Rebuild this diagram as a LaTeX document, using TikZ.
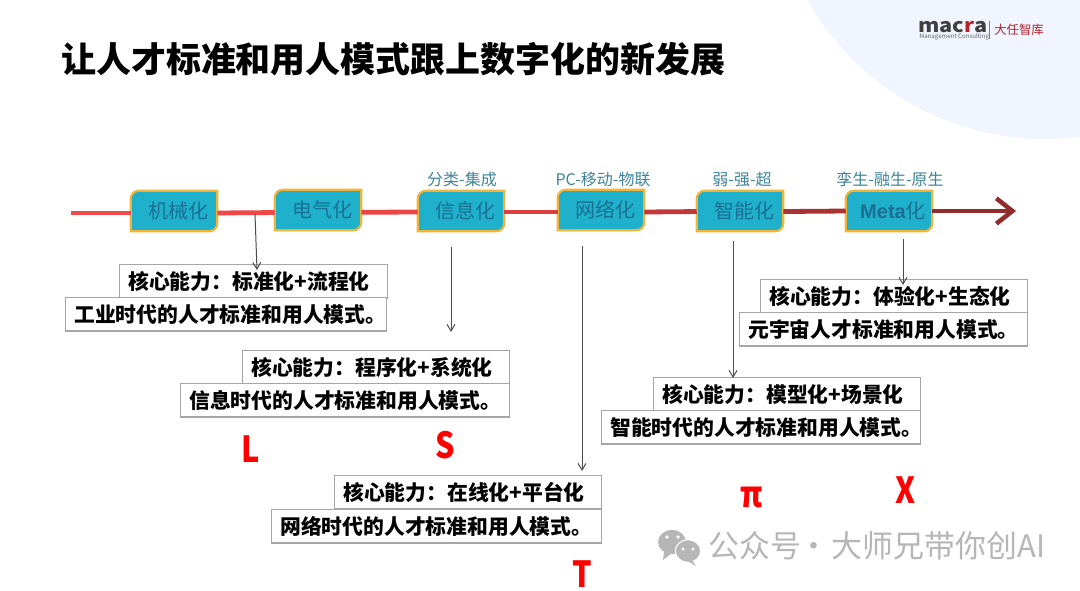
\documentclass[tikz,border=0pt]{standalone}
\usepackage{fontspec}
\setmainfont{Noto Sans CJK SC}
\newfontfamily\latinbold{Liberation Sans}
\usetikzlibrary{arrows.meta,backgrounds}
\definecolor{tagfill}{HTML}{1FB1CC}
\definecolor{tagedge}{HTML}{F5B335}
\definecolor{tagtext}{HTML}{1A6F92}
\definecolor{toptext}{HTML}{3F8499}
\definecolor{boxedge}{HTML}{A6A6A6}
\definecolor{arcfill}{HTML}{F0F5FF}
\definecolor{wmgrey}{HTML}{B6B6B6}
\definecolor{logored}{HTML}{B5222A}
\tikzset{
  x=0.75pt,y=-0.75pt,
  tagnode/.style={minimum width=64.5pt,minimum height=30pt,inner sep=0pt,text=tagtext,font=\fontsize{15}{15}\selectfont},
  tagshape/.style={draw=tagedge,fill=tagfill,line width=1.6pt},
  toplabel/.style={inner sep=0pt,text=toptext,font=\fontsize{12}{12}\selectfont},
  capbox/.style={draw=boxedge,line width=0.9pt,fill=white,inner ysep=0pt,inner xsep=6.5pt,minimum height=25pt,align=left,anchor=north west,font=\fontsize{15.6}{16}\selectfont\bfseries},
  flow/.style={line width=3.6pt},
  pointer/.style={draw=black!70,line width=0.75pt,-{Straight Barb[length=5pt,width=6pt]}},
  letter/.style={inner sep=0pt,text=red,font=\fontsize{27}{27}\selectfont\bfseries},
}
\newcommand{\tagbox}[3]{%
  \node[tagnode] (#1) at (#2) {\hspace*{6pt}#3};
  \begin{pgfonlayer}{background}
    \draw[tagshape] (#1.south west) -- ([yshift=-6pt]#1.north west) [rounded corners=6pt] -- (#1.north west) [sharp corners] -- (#1.north east) -- ([yshift=6pt]#1.south east) [rounded corners=6pt] -- (#1.south east) [sharp corners] -- cycle;
  \end{pgfonlayer}}
\begin{document}
\begin{tikzpicture}
\useasboundingbox (0,0) rectangle (1080,590);
\begin{pgfonlayer}{background}
  \fill[white] (0,0) rectangle (1080,590);
  \begin{scope}
    \clip (0,0) rectangle (1080,590);
    \fill[arcfill] (1045,-133) circle[radius=204pt];
  \end{scope}
\end{pgfonlayer}

% title
\node[anchor=west,inner sep=0pt,font=\fontsize{26.2}{26.2}\selectfont\bfseries] (title) at (61,59) {让人才标准和用人模式跟上数字化的新发展};

% logo
\node[anchor=west,inner sep=0pt,text=black!75,font=\fontsize{12.5}{12.5}\selectfont\bfseries] (logoa) at (918,27) {\scalebox{1.3}[1.15]{mac\textcolor{logored}{r}a}};
\node[anchor=west,inner sep=0pt,text=black!60,font=\fontsize{4.6}{5}\selectfont] (logob) at (919,36.5) {Management Consulting};
\draw[black!50,line width=0.5pt] (989,21) -- (989,39);
\node[anchor=west,inner sep=0pt,text=logored,font=\fontsize{9.3}{10}\selectfont] (logoc) at (994,30) {大任智库};

% timeline
\tagbox{a}{174,211}{机械化}
\tagbox{b}{318,210}{电气化}
\tagbox{c}{461,211}{信息化}
\tagbox{d}{601,210}{网络化}
\tagbox{e}{740,211}{智能化}
\tagbox{f}{889,211}{{\latinbold\bfseries Meta}化}
\coordinate (start) at (71,213);
\coordinate (tip) at (1016,211);
\draw[flow,draw={rgb,255:red,240;green,74;blue,74}] (start) -- ([yshift=-1.5pt]a.west);
\draw[flow,draw={rgb,255:red,240;green,72;blue,72}] ([yshift=-1.5pt]a.east) -- ([yshift=-1.9pt]b.west);
\draw[flow,draw={rgb,255:red,236;green,68;blue,68}] ([yshift=-1.7pt]b.east) -- ([yshift=-.75pt]c.west);
\draw[flow,draw={rgb,255:red,218;green,62;blue,62}] ([yshift=-.75pt]c.east) -- ([yshift=-1.5pt]d.west);
\draw[flow,draw={rgb,255:red,198;green,56;blue,56}] ([yshift=-1.5pt]d.east) -- ([yshift=-.4pt]e.west);
\draw[flow,draw={rgb,255:red,170;green,50;blue,50}] ([yshift=-.4pt]e.east) -- (f.west);
\draw[flow,draw={rgb,255:red,146;green,44;blue,44},-{Straight Barb[length=12pt,width=19pt,line width=3.4pt]}] (f.east) -- (tip);

\node[toplabel] (la) at (462,179) {分类-集成};
\node[toplabel] (lb) at (603,179) {PC-移动-物联};
\node[toplabel] (lc) at (742,179) {弱-强-超};
\node[toplabel] (ld) at (890,179) {孪生-融生-原生};

% caption boxes
\node[capbox,text width=188pt] (k1) at (119,264) {核心能力：标准化+流程化};
\node[capbox,text width=227.7pt] (t1) at (65,297) {工业时代的人才标准和用人模式。};
\node[capbox,text width=187.2pt] (k2) at (242,350) {核心能力：程序化+系统化};
\node[capbox,text width=233.7pt] (t2) at (180,383) {信息时代的人才标准和用人模式。};
\node[capbox,text width=187.2pt] (k3) at (334,475) {核心能力：在线化+平台化};
\node[capbox,text width=234.5pt] (t3) at (271,509) {网络时代的人才标准和用人模式。};
\node[capbox,text width=187.2pt] (k4) at (653,377) {核心能力：模型化+场景化};
\node[capbox,text width=226.2pt] (t4) at (601,410) {智能时代的人才标准和用人模式。};
\node[capbox,text width=187.2pt] (k5) at (760,279) {核心能力：体验化+生态化};
\node[capbox,text width=203pt] (t5) at (739,312) {元宇宙人才标准和用人模式。};

% pointers
\coordinate (p1) at (255,214);
\coordinate (q1) at (257,270);
\coordinate (p2) at (451,247);
\coordinate (q2) at (451,332);
\coordinate (p3) at (582,246);
\coordinate (q3) at (582,471);
\coordinate (p4) at (733,241);
\coordinate (q4) at (733,378);
\coordinate (p5) at (903,239);
\coordinate (q5) at (903,285);
\draw[pointer] (p1) -- (q1);
\draw[pointer] (p2) -- (q2);
\draw[pointer] (p3) -- (q3);
\draw[pointer] (p4) -- (q4);
\draw[pointer] (p5) -- (q5);

% letters
\node[letter] (L) at (251,449) {\scalebox{.85}[1]{L}};
\node[letter] (S) at (445,445) {\scalebox{.85}[1]{S}};
\node[letter] (T) at (582,574) {\scalebox{.85}[1]{T}};
\node[letter] (P) at (752,497) {\scalebox{.85}[1]{π}};
\node[letter] (X) at (906,490) {\scalebox{.85}[1]{X}};

% watermark
\fill[wmgrey] (672,542) ellipse[x radius=10.5pt,y radius=9pt];
\fill[wmgrey] (664,552) -- (663,560) -- (672,553) -- cycle;
\fill[white] (667,537) circle[radius=1.4pt] (678,537) circle[radius=1.4pt];
\fill[wmgrey,draw=white,line width=0.8pt] (688,551) ellipse[x radius=9.5pt,y radius=8.5pt];
\fill[wmgrey] (692,560) -- (696,566) -- (686,560) -- cycle;
\fill[white] (683,549) circle[radius=1.2pt] (693,549) circle[radius=1.2pt];
\node[anchor=west,inner sep=0pt,text=wmgrey,font=\fontsize{23.2}{23.2}\selectfont] (wm) at (708,546) {公众号\hspace{-2pt}·\hspace{2pt}大师兄带你创AI};
\end{tikzpicture}
\end{document}
